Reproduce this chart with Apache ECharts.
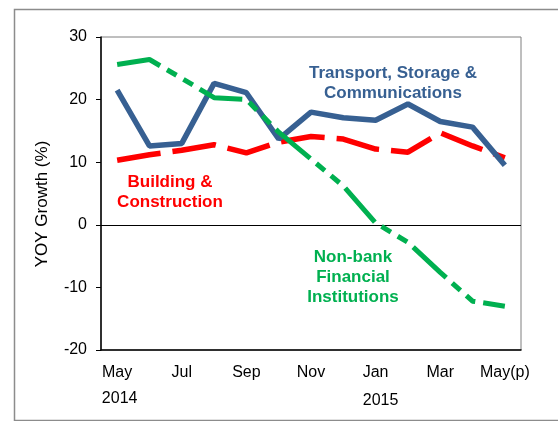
<!DOCTYPE html>
<html>
<head>
<meta charset="utf-8">
<script src="https://cdn.jsdelivr.net/npm/echarts@6/dist/echarts.min.js"></script>
<style>
  html, body { margin: 0; background: #fff; }
  #chart { width: 558px; height: 421px; }
</style>
</head>
<body>
<div id="chart"></div>
<script>
// monthly YOY growth, May 2014 - May 2015 (p)
const months = ['May', 'Jun', 'Jul', 'Aug', 'Sep', 'Oct', 'Nov', 'Dec', 'Jan', 'Feb', 'Mar', 'Apr', 'May(p)']
const yearLabels = ['2014', '', '', '', '', '', '', '', '2015', '', '', '', '']
const transport = [21.5, 12.6, 13.0, 22.6, 21.1, 13.7, 18.0, 17.1, 16.7, 19.3, 16.5, 15.6, 9.5]
const building = [10.3, 11.2, 11.9, 12.8, 11.5, 13.2, 14.1, 13.7, 12.1, 11.6, 14.7, 12.6, 10.7]
const nonbank = [25.6, 26.4, 23.4, 20.3, 20.0, 14.8, 10.5, 6.2, 0.3, -2.8, -7.6, -12.2, -13.0]
const yMin = -20
const yMax = 30
const yStep = 10

const BLUE = '#376092'
const RED = '#ff0000'
const GREEN = '#00b050'
const FONT = 'Liberation Sans, Arial, sans-serif'

const chart = echarts.init(document.getElementById('chart'))

const option = {
  backgroundColor: '#fff',
  animation: false,
  textStyle: { fontFamily: FONT },
  grid: {
    left: 101,
    right: 37,
    top: 37,
    bottom: 71,
    show: true,
    borderColor: '#7f7f7f',
    borderWidth: 1
  },
  xAxis: {
    type: 'category',
    data: months,
    boundaryGap: true,
    axisLine: { onZero: false, lineStyle: { color: '#000', width: 1.5 } },
    axisTick: { alignWithLabel: true, interval: 0, length: 5, lineStyle: { color: '#000' } },
    axisLabel: {
      interval: 1,
      margin: 12,
      color: '#000',
      fontSize: 16,
      fontFamily: FONT,
      formatter: (value, idx) => {
        const yr = yearLabels[idx]
        if (!yr) return '{m|' + value + '}'
        return '{m|' + value + '}\n' + (idx === 0 ? '{y|' + yr + '}' : '{y2|' + yr + '}')
      },
      rich: {
        m: { fontSize: 16, fontFamily: FONT, color: '#000', lineHeight: 22 },
        y: { fontSize: 16, fontFamily: FONT, color: '#000', lineHeight: 30, padding: [0, 0, 0, 5] },
        y2: { fontSize: 16, fontFamily: FONT, color: '#000', lineHeight: 34, padding: [0, 0, 0, 10] }
      }
    },
    splitLine: { show: false }
  },
  yAxis: {
    type: 'value',
    min: yMin,
    max: yMax,
    interval: yStep,
    axisLine: { show: true, lineStyle: { color: '#000', width: 1.5 } },
    axisTick: { show: true, length: 5, lineStyle: { color: '#000' } },
    axisLabel: { color: '#000', fontSize: 16, fontFamily: FONT, margin: 14 },
    splitLine: { show: false }
  },
  series: [
    {
      name: 'Building & Construction',
      type: 'line',
      data: building,
      symbol: 'none',
      lineStyle: { color: RED, width: 5.5, type: [44, 12] },
      z: 2
    },
    {
      name: 'Transport, Storage & Communications',
      type: 'line',
      data: transport,
      symbol: 'none',
      lineStyle: { color: BLUE, width: 5.5 },
      z: 3,
      markLine: {
        silent: true,
        symbol: 'none',
        label: { show: false },
        lineStyle: { color: '#000', width: 1, type: 'solid' },
        data: [{ yAxis: 0 }],
        z: 1
      }
    },
    {
      name: 'Non-bank Financial Institutions',
      type: 'line',
      data: nonbank,
      symbol: 'none',
      lineStyle: { color: GREEN, width: 5, type: [45, 8, 11, 8, 11, 8] },
      z: 4
    }
  ],
  graphic: [
    {
      type: 'rect',
      left: 12,
      top: 7,
      shape: { width: 560, height: 411 },
      style: { fill: 'none', stroke: '#8c8c8c', lineWidth: 1.5 },
      silent: true
    },
    {
      type: 'text',
      x: 42,
      y: 204,
      rotation: Math.PI / 2,
      style: {
        text: 'YOY Growth (%)',
        fill: '#000',
        font: '17px ' + FONT,
        align: 'center',
        verticalAlign: 'middle'
      }
    },
    {
      type: 'text',
      x: 393,
      y: 83,
      style: {
        text: 'Transport, Storage &\nCommunications',
        fill: BLUE,
        font: 'bold 17px ' + FONT,
        lineHeight: 20,
        align: 'center',
        verticalAlign: 'middle'
      }
    },
    {
      type: 'text',
      x: 170,
      y: 192,
      style: {
        text: 'Building &\nConstruction',
        fill: RED,
        font: 'bold 17px ' + FONT,
        lineHeight: 20,
        align: 'center',
        verticalAlign: 'middle'
      }
    },
    {
      type: 'text',
      x: 353,
      y: 277,
      style: {
        text: 'Non-bank\nFinancial\nInstitutions',
        fill: GREEN,
        font: 'bold 17px ' + FONT,
        lineHeight: 20,
        align: 'center',
        verticalAlign: 'middle'
      }
    }
  ]
}

chart.setOption(option)
</script>
</body>
</html>
